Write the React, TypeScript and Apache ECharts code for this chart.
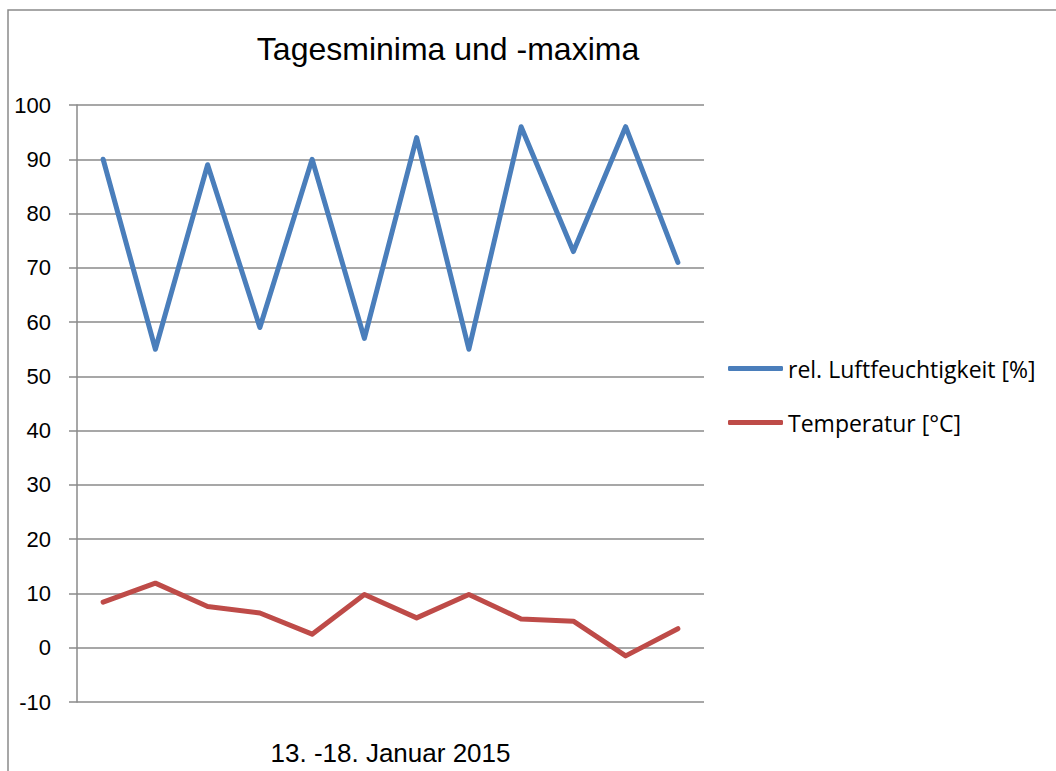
import React, { useEffect, useRef } from "react";
import * as echarts from "echarts";

const categories = ["1", "2", "3", "4", "5", "6", "7", "8", "9", "10", "11", "12"];
const humidity = [90, 55, 89, 59, 90, 57, 94, 55, 96, 73, 96, 71];
const temperature = [8.4, 11.9, 7.6, 6.4, 2.5, 9.8, 5.5, 9.8, 5.3, 4.9, -1.5, 3.5];
const seriesNames = ["rel. Luftfeuchtigkeit [%]", "Temperatur [°C]"];
const titleText = "Tagesminima und -maxima";
const xAxisName = "13. -18. Januar 2015";

export default function App() {
  const ref = useRef<HTMLDivElement>(null);
  useEffect(() => {
    if (!ref.current) return;
    const chart = echarts.init(ref.current, null, { renderer: "svg" });
    const sans = "'Liberation Sans', Arial, sans-serif";
    chart.setOption({
      animation: false,
      backgroundColor: "#ffffff",
      title: {
        text: titleText,
        left: 443,
        top: 28,
        textAlign: "center",
        textStyle: { fontFamily: sans, fontSize: 32, fontWeight: "normal", color: "#000" },
      },
      graphic: [
        {
          type: "rect",
          shape: { x: 8, y: 10, width: 1200, height: 900 },
          style: { fill: "none", stroke: "#8a8a8a", lineWidth: 1.5 },
          silent: true,
        },
      ],
      legend: {
        orient: "vertical",
        left: 728,
        top: 357,
        padding: 0,
        itemWidth: 55,
        itemHeight: 5,
        itemGap: 31,
        icon: "roundRect",
        textStyle: { fontFamily: "'Open Sans', sans-serif", fontSize: 23, color: "#000" },
        data: seriesNames,
      },
      grid: { left: 77, right: 352, top: 105, bottom: 61, containLabel: false },
      xAxis: {
        type: "category",
        data: categories,
        boundaryGap: true,
        axisLine: { show: false },
        axisTick: { show: false },
        axisLabel: { show: false },
        splitLine: { show: false },
        name: xAxisName,
        nameLocation: "middle",
        nameGap: 38,
        nameTextStyle: { fontFamily: sans, fontSize: 26, color: "#000" },
      },
      yAxis: {
        type: "value",
        min: -10,
        max: 100,
        interval: 10,
        axisLine: { show: true, lineStyle: { color: "#8a8a8a", width: 1.5 } },
        axisTick: { show: true, length: 8, lineStyle: { color: "#8a8a8a", width: 1.5 } },
        axisLabel: { fontFamily: sans, fontSize: 22, color: "#000", margin: 26 },
        splitLine: { show: true, lineStyle: { color: "#8a8a8a", width: 1.5 } },
      },
      series: [
        {
          name: seriesNames[0],
          type: "line",
          data: humidity,
          showSymbol: false,
          symbol: "none",
          lineStyle: { color: "#4a7ebb", width: 5, cap: "round", join: "round" },
          itemStyle: { color: "#4a7ebb" },
        },
        {
          name: seriesNames[1],
          type: "line",
          data: temperature,
          showSymbol: false,
          symbol: "none",
          lineStyle: { color: "#be4b48", width: 5, cap: "round", join: "round" },
          itemStyle: { color: "#be4b48" },
        },
      ],
    });
    return () => chart.dispose();
  }, []);
  return (
    <div
      ref={ref}
      style={{ position: "absolute", left: 0, top: 0, width: 1056, height: 771 }}
    />
  );
}
